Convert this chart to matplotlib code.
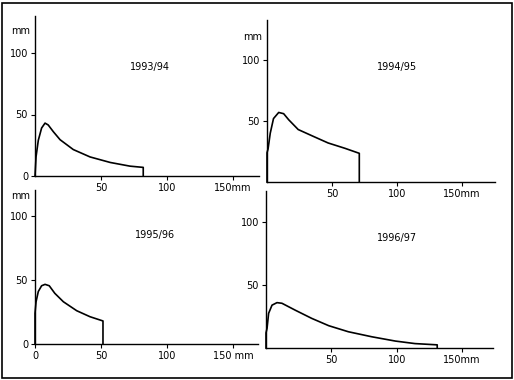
import matplotlib
matplotlib.use("Agg")
import matplotlib.pyplot as plt
from matplotlib.patches import Rectangle

# ---- data, values in mm ----
titles = ["1993/94", "1994/95", "1995/96", "1996/97"]

x_9394 = [0, 0.8, 2.5, 5, 7.6, 10, 13.9, 19, 29, 41.7, 57, 72, 82, 82]
y_9394 = [0, 15.7, 29, 39, 43, 41.5, 36, 29.5, 21.5, 15.5, 11, 8, 7, 0]

x_9495 = [0, 0, 0.8, 2.5, 5, 9, 12.8, 16.7, 24, 35, 47, 60, 71, 71]
y_9495 = [0, 24, 27, 40, 52, 57, 56, 51, 43, 37.7, 32, 27.6, 23.5, 0]

x_9596 = [0, 0, 0.8, 2.5, 5, 7.6, 10.8, 15, 21.5, 31.6, 41.7, 51.5, 51.5]
y_9596 = [0, 24, 33, 41, 45.5, 46.6, 45.5, 39.6, 33, 26, 21.3, 18, 0]

x_9697 = [0, 0, 0.8, 2, 4.6, 8.4, 12.2, 22.4, 35, 48, 63, 81, 99, 114, 131, 131]
y_9697 = [0, 12, 15.6, 27.5, 34, 36, 35.5, 30, 23.5, 17.7, 12.9, 8.9, 5.5, 3.5, 2.5, 0]

xs = [x_9394, x_9495, x_9596, x_9697]
ys = [y_9394, y_9495, y_9596, y_9697]

xticks = [[50, 100, 150], [50, 100, 150], [0, 50, 100, 150], [50, 100, 150]]
xticklabels = [["50", "100", "150mm"], ["50", "100", "150mm"],
               ["0", "50", "100", "150 mm"], ["50", "100", "150mm"]]
yticks = [[0, 50, 100], [50, 100], [0, 50, 100], [50, 100]]

# ---- layout in pixels: origin x, origin y (from top), px per mm (x, y), axis extents ----
W, H = 514, 380
layout = [
    (35, 176, 1.32, 1.23, 170, 130),
    (267, 182, 1.30, 1.22, 175, 133),
    (35, 344, 1.32, 1.28, 169, 120),
    (266, 348, 1.307, 1.26, 174, 125),
]
title_pos = [(87, 89), (100, 94), (91, 85), (100, 87)]
mm_pos = [118, 119, 116, None]

fig = plt.figure(figsize=(W / 100, H / 100), dpi=100)
fig.patches.append(Rectangle((1.5 / W, 2.5 / H), (W - 4) / W, (H - 5) / H,
                             transform=fig.transFigure, fill=False,
                             edgecolor="black", linewidth=1.2))

for i in range(4):
    ox, oy, sx, sy, xmax, ymax = layout[i]
    ax = fig.add_axes([ox / W, (H - oy) / H, xmax * sx / W, ymax * sy / H])
    ax.set_xlim(0, xmax)
    ax.set_ylim(0, ymax)
    ax.patch.set_visible(False)
    for s in ["top", "right"]:
        ax.spines[s].set_visible(False)
    for s in ["left", "bottom"]:
        ax.spines[s].set_linewidth(1.0)

    ax.plot(xs[i], ys[i], color="black", linewidth=1.2, clip_on=False,
            solid_joinstyle="round")

    ax.set_xticks(xticks[i])
    ax.set_xticklabels(xticklabels[i])
    ax.set_yticks(yticks[i])
    ax.tick_params(direction="out", length=3, width=0.8, labelsize=7, pad=2)

    tx, ty = title_pos[i]
    ax.text(tx, ty, titles[i], fontsize=7, ha="center", va="center")
    if mm_pos[i] is not None:
        ax.text(-4, mm_pos[i], "mm", fontsize=7, ha="right", va="center")

fig.savefig("out.png", dpi=100)
